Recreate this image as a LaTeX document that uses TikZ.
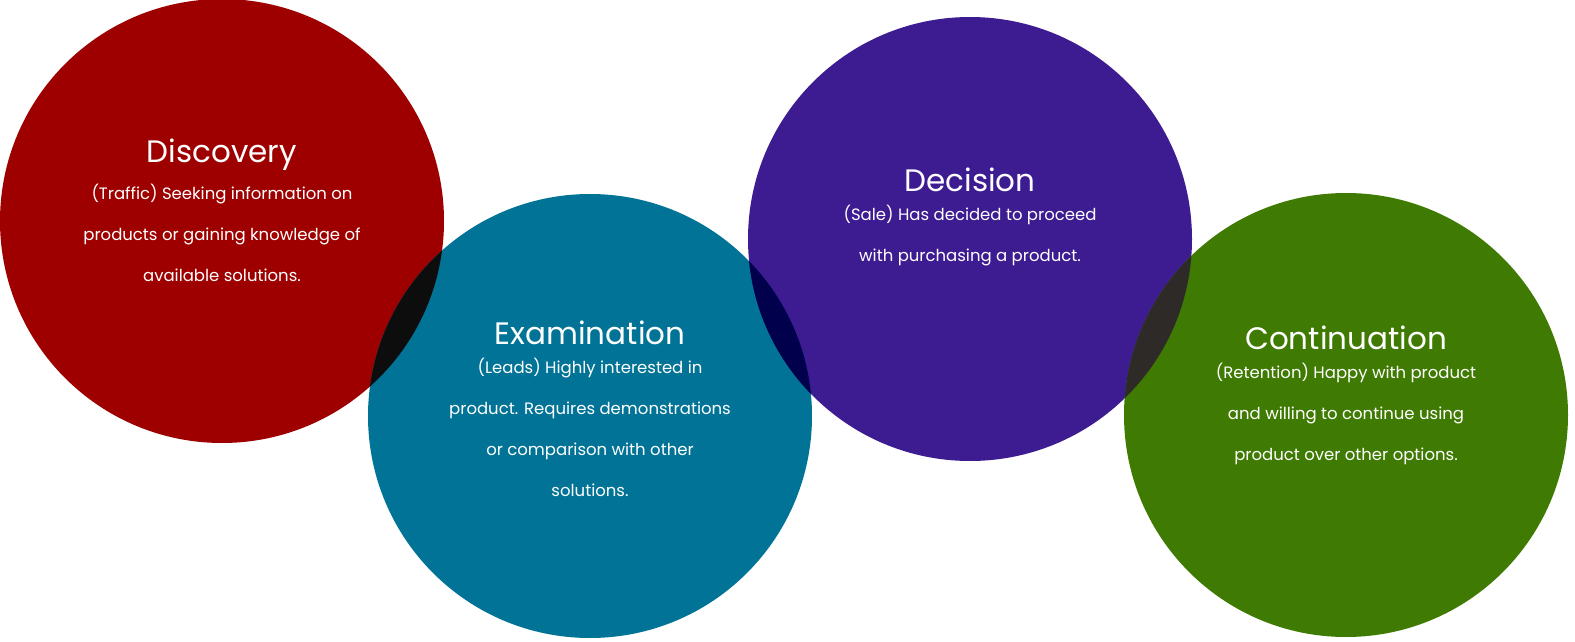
\documentclass[tikz,border=0pt]{standalone}
\usepackage{fontspec}
\setmainfont{Poppins}
\usetikzlibrary{positioning}
\definecolor{discred}{HTML}{9E0000}
\definecolor{examteal}{HTML}{007396}
\definecolor{decipurple}{HTML}{3D1B91}
\definecolor{contgreen}{HTML}{3F7A02}
\tikzstyle{stage}  = [circle, minimum size=444pt, inner sep=0pt]
\tikzstyle{title}  = [text=white, font=\fontsize{31}{36}\selectfont]
\tikzstyle{body}   = [text=white, align=center, font=\fontsize{16.5}{41}\selectfont]

\begin{document}
\begin{tikzpicture}[x=1pt, y=-1pt]
        \useasboundingbox (0,0) rectangle (1575,642);
        \node (disc) [stage, fill=discred]    at (222,221)  {};
        \node (exam) [stage, fill=examteal]   at (590,416)  {};
        \node (deci) [stage, fill=decipurple] at (970,239)  {};
        \node (cont) [stage, fill=contgreen]  at (1346,415) {};
        % overlaps
        \begin{scope}
            \clip (222,221) circle (222);
            \fill[black!95] (590,416) circle (222);
        \end{scope}
        \begin{scope}
            \clip (590,416) circle (222);
            \fill[blue!30!black] (970,239) circle (222);
        \end{scope}
        \begin{scope}
            \clip (970,239) circle (222);
            \fill[black!90!olive] (1346,415) circle (222);
        \end{scope}
        \node (disct) [title] at (222,155) {Discovery};
        \node (discb) [body, below=6pt of disct] {(Traffic) Seeking information on\\products or gaining knowledge of\\available solutions.};
        \node (examt) [title] at (590,333) {Examination};
        \node (examb) [body, below=6pt of examt] {(Leads) Highly interested in\\product. Requires demonstrations\\or comparison with other\\solutions.};
        \node (decit) [title] at (970,180) {Decision};
        \node (decib) [body, below=6pt of decit] {(Sale) Has decided to proceed\\with purchasing a product.};
        \node (contt) [title] at (1346,338) {Continuation};
        \node (contb) [body, below=6pt of contt] {(Retention) Happy with product\\and willing to continue using\\product over other options.};
    \end{tikzpicture}
\end{document}
